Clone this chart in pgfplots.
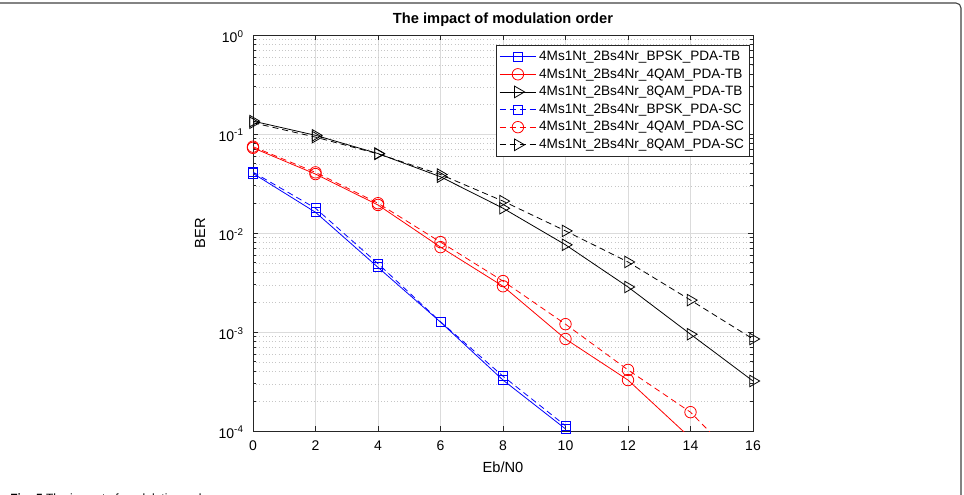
\documentclass[border=0pt]{standalone}
\usepackage{pgfplots}
\pgfplotsset{compat=1.18}
\usepackage{fontspec}
\setmainfont{Liberation Sans}
\definecolor{axgray}{gray}{0.15}
\definecolor{gridgray}{gray}{0.86}
\definecolor{mblue}{rgb}{0,0,1}
\definecolor{mred}{rgb}{1,0,0}

% BER versus Eb/N0 for each modulation and detector
\pgfplotstableread{
x   y
0   0.0400
2   0.0162
4   0.0045
6   0.00126
8   0.000327
10  0.000105
}\bpsktb
\pgfplotstableread{
x   y
0   0.0412
2   0.0178
4   0.0049
6   0.00127
8   0.000358
10  0.000113
}\bpsksc
\pgfplotstableread{
x   y
0   0.0725
2   0.0394
4   0.0192
6   0.0072
8   0.00290
10  0.00085
12  0.000327
14  0.000085
16  0.000022
}\qamtb
\pgfplotstableread{
x   y
0   0.0745
2   0.0410
4   0.0200
6   0.0081
8   0.00327
10  0.00120
12  0.000414
14  0.000155
16  0.000035
}\qamsc
\pgfplotstableread{
x   y
0   0.135
2   0.097
4   0.0635
6   0.0370
8   0.0178
10  0.0076
12  0.00285
14  0.00095
16  0.00032
}\eqamtb
\pgfplotstableread{
x   y
0   0.130
2   0.093
4   0.0630
6   0.0390
8   0.0210
10  0.0105
12  0.0051
14  0.0021
16  0.00085
}\eqamsc

\begin{document}
\begin{tikzpicture}
\begin{scope}[x=0.75pt,y=0.75pt]
  \useasboundingbox (0,0) rectangle (964,494);
  % page frame
  \draw[line width=0.8pt, black!75] (0,491) -- (956,491)
     arc[start angle=90,end angle=0,radius=5] -- (961,-2);
  \node[anchor=base west, font=\fontsize{9}{10}\selectfont, inner sep=0pt]
     at (10,-8) {\textbf{Fig. 5} The impact of modulation order};
\end{scope}

\begin{axis}[
  at={(189.75pt,47.25pt)}, anchor=south west,
  scale only axis, width=375pt, height=297pt,
  ymode=log,
  xmin=0, xmax=16, ymin=1e-4, ymax=1,
  xtick={0,2,...,16},
  ytick={1e-4,1e-3,1e-2,1e-1,1},
  yticklabels={10\textsuperscript{-4},10\textsuperscript{-3},10\textsuperscript{-2},10\textsuperscript{-1},10\textsuperscript{0}},
  /pgf/number format/assume math mode=true,
  tick label style={font=\fontsize{10.5}{12}\selectfont},
  xticklabel style={yshift=-3.5pt},
  yticklabel style={xshift=-3.5pt, yshift=-1pt},
  tick align=inside,
  major tick length=4pt, minor tick length=2.2pt,
  axis line style={axgray, line width=0.6pt},
  every tick/.style={axgray, line width=0.5pt},
  xmajorgrids, ymajorgrids, yminorgrids,
  major grid style={gridgray, line width=0.5pt},
  minor grid style={gray!45, line width=0.4pt, dotted},
  title={The impact of modulation order},
  every axis title/.style={at={(axis description cs:0.5,1.038)}, anchor=center,
    font=\fontsize{11}{13}\selectfont\bfseries},
  xlabel={Eb/N0}, ylabel={BER},
  every axis x label/.style={at={(axis description cs:0.5,-0.091)}, anchor=center,
    font=\fontsize{11}{13}\selectfont},
  every axis y label/.style={at={(axis description cs:-0.106,0.5)}, anchor=center,
    rotate=90, font=\fontsize{11}{13}\selectfont},
  legend cell align=left,
  legend style={at={(0.994,0.975)}, anchor=north east,
    font=\fontsize{10.2}{11.5}\selectfont, draw=axgray, fill=white,
    line width=0.6pt, row sep=0.6pt, inner sep=2.2pt},
  legend image code/.code={
    \draw[mark repeat=2,mark phase=2,#1]
      plot coordinates {(0cm,0cm) (0.48cm,0cm) (0.96cm,0cm)};
  },
  every axis plot/.append style={line width=0.6pt},
]
\addplot[mblue, mark=square, mark size=3.4pt, mark options={solid}] table {\bpsktb};
\addlegendentry{4Ms1Nt\_2Bs4Nr\_BPSK\_PDA-TB}
\addplot[mred, mark=o, mark size=4.3pt, mark options={solid}] table {\qamtb};
\addlegendentry{4Ms1Nt\_2Bs4Nr\_4QAM\_PDA-TB}
\addplot[black, mark=triangle, mark size=5pt, mark options={solid, rotate=-90}] table {\eqamtb};
\addlegendentry{4Ms1Nt\_2Bs4Nr\_8QAM\_PDA-TB}
\addplot[mblue, dashed, dash pattern=on 4.5pt off 3pt, mark=square, mark size=3.4pt, mark options={solid}] table {\bpsksc};
\addlegendentry{4Ms1Nt\_2Bs4Nr\_BPSK\_PDA-SC}
\addplot[mred, dashed, dash pattern=on 4.5pt off 3pt, mark=o, mark size=4.3pt, mark options={solid}] table {\qamsc};
\addlegendentry{4Ms1Nt\_2Bs4Nr\_4QAM\_PDA-SC}
\addplot[black, dashed, dash pattern=on 4.5pt off 3pt, mark=triangle, mark size=5pt, mark options={solid, rotate=-90}] table {\eqamsc};
\addlegendentry{4Ms1Nt\_2Bs4Nr\_8QAM\_PDA-SC}
\end{axis}
\end{tikzpicture}
\end{document}
